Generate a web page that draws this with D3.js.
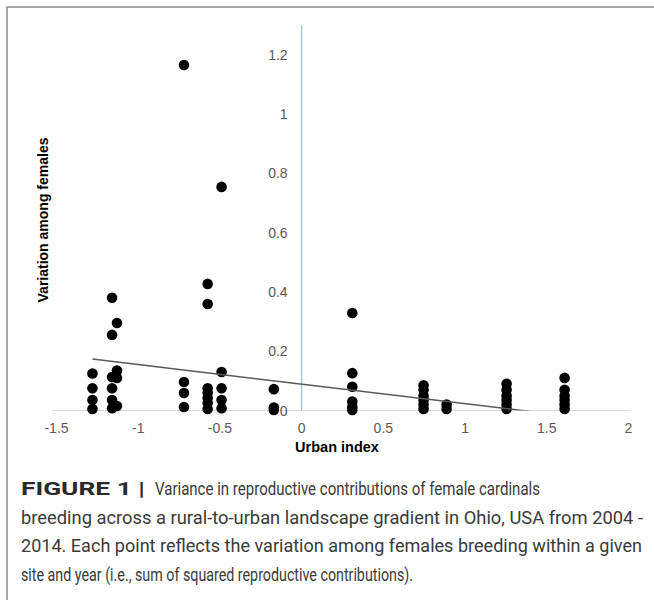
<!DOCTYPE html>
<html>
<head>
<meta charset="utf-8">
<script src="https://cdn.jsdelivr.net/npm/d3@7"></script>
<style>
  body { margin: 0; background: #fff; }
</style>
</head>
<body>
<script>
// values (site/year points)
const urbanIndex = [
  -1.28, -1.28, -1.28, -1.28,
  -1.16, -1.16, -1.16, -1.16, -1.16, -1.16,
  -1.13, -1.13, -1.13, -1.13,
  -0.72, -0.72, -0.72, -0.72,
  -0.575, -0.575, -0.575, -0.575, -0.575, -0.575, -0.575,
  -0.49, -0.49, -0.49, -0.49, -0.49,
  -0.17, -0.17, -0.17,
  0.31, 0.31, 0.31, 0.31, 0.31, 0.31,
  0.746, 0.746, 0.746, 0.746, 0.746, 0.746,
  0.887, 0.887,
  1.254, 1.254, 1.254, 1.254, 1.254, 1.254,
  1.609, 1.609, 1.609, 1.609, 1.609, 1.609
];
const variation = [
  0.125, 0.075, 0.035, 0.005,
  0.38, 0.255, 0.113, 0.075, 0.035, 0.008,
  0.295, 0.135, 0.11, 0.015,
  1.165, 0.096, 0.059, 0.012,
  0.427, 0.359, 0.075, 0.06, 0.042, 0.025, 0.005,
  0.754, 0.13, 0.075, 0.035, 0.008,
  0.072, 0.01, 0.002,
  0.329, 0.126, 0.08, 0.03, 0.012, 0.002,
  0.085, 0.07, 0.05, 0.035, 0.02, 0.005,
  0.02, 0.005,
  0.09, 0.07, 0.05, 0.035, 0.02, 0.005,
  0.11, 0.07, 0.05, 0.035, 0.02, 0.005
];
const xTicks = [-1.5, -1, -0.5, 0, 0.5, 1, 1.5, 2];
const yTicks = [0, 0.2, 0.4, 0.6, 0.8, 1, 1.2];
// linear trendline as drawn in the figure
const trendIntercept = 0.089;
const trendSlope = -0.066;
const captionHead = "FIGURE 1 |";
const captionLines = [
  "Variance in reproductive contributions of female cardinals",
  "breeding across a rural-to-urban landscape gradient in Ohio, USA from 2004 -",
  "2014. Each point reflects the variation among females breeding within a given",
  "site and year (i.e., sum of squared reproductive contributions)."
];

function main(){
  const W = 654, H = 600;
  const svg = d3.select("body").append("svg")
    .attr("width", W)
    .attr("height", H);

  // frame round the figure
  svg.append("rect")
    .attr("x", 7).attr("y", 7)
    .attr("width", 700).attr("height", 700)
    .attr("fill", "none")
    .attr("stroke", "#8a8a8a")
    .attr("stroke-width", 1.5);

  const x = d3.scaleLinear().domain([-1.5, 2]).range([56.5, 628.5]);
  const y = d3.scaleLinear().domain([0, 1.3]).range([410.5, 25]);

  const tickFont = "'Liberation Sans', Arial, sans-serif";

  // x axis line at y = 0
  svg.append("line")
    .attr("x1", 52).attr("x2", 630)
    .attr("y1", y(0)).attr("y2", y(0))
    .attr("stroke", "#d0dbe8").attr("stroke-width", 1.2);

  // y axis line at x = 0
  svg.append("line")
    .attr("x1", x(0)).attr("x2", x(0))
    .attr("y1", y(1.3)).attr("y2", y(0))
    .attr("stroke", "#9cc3e5").attr("stroke-width", 1.3);

  svg.selectAll(".xt").data(xTicks).enter().append("text")
    .attr("x", d => x(d))
    .attr("y", 433)
    .attr("text-anchor", "middle")
    .attr("font-family", tickFont)
    .attr("font-size", 14)
    .attr("fill", "#595959")
    .text(d => d);

  svg.selectAll(".yt").data(yTicks).enter().append("text")
    .attr("x", x(0) - 14)
    .attr("y", d => y(d) + 5)
    .attr("text-anchor", "end")
    .attr("font-family", tickFont)
    .attr("font-size", 14)
    .attr("fill", "#595959")
    .text(d => d);

  // points
  svg.append("g").selectAll("circle")
    .data(urbanIndex.map((u, i) => [u, variation[i]]))
    .enter().append("circle")
    .attr("cx", d => x(d[0]))
    .attr("cy", d => y(d[1]))
    .attr("r", 5.3)
    .attr("fill", "#000");

  // trendline, clipped at y = 0 like the original
  svg.append("clipPath").attr("id", "plotclip")
    .append("rect")
    .attr("x", 0).attr("y", y(1.3))
    .attr("width", W).attr("height", y(0) - y(1.3));

  const xMin = d3.min(urbanIndex), xMax = d3.max(urbanIndex);
  svg.append("line")
    .attr("clip-path", "url(#plotclip)")
    .attr("x1", x(xMin)).attr("y1", y(trendIntercept + trendSlope * xMin))
    .attr("x2", x(xMax)).attr("y2", y(trendIntercept + trendSlope * xMax))
    .attr("stroke", "#595959")
    .attr("stroke-width", 1.5);

  // axis titles
  svg.append("text")
    .attr("x", 337).attr("y", 452)
    .attr("text-anchor", "middle")
    .attr("font-family", tickFont)
    .attr("font-size", 14.5)
    .attr("font-weight", "bold")
    .attr("fill", "#000")
    .text("Urban index");

  svg.append("text")
    .attr("transform", "translate(48,220) rotate(-90)")
    .attr("text-anchor", "middle")
    .attr("font-family", tickFont)
    .attr("font-size", 14)
    .attr("font-weight", "bold")
    .attr("fill", "#000")
    .text("Variation among females");

  // caption, each line fitted to where it sits in the figure
  const capFont = "Roboto, 'Liberation Sans', sans-serif";
  const lineStart = [155, 21, 21, 21];
  const lineEnd = [540, 643, 642, 413];

  svg.append("text")
    .attr("x", 21).attr("y", 495)
    .attr("font-family", capFont)
    .attr("font-size", 19)
    .attr("font-weight", "bold")
    .attr("fill", "#2a2a2a")
    .attr("textLength", 124)
    .attr("lengthAdjust", "spacingAndGlyphs")
    .text(captionHead);

  svg.selectAll(".cap").data(captionLines).enter().append("text")
    .attr("x", (d, i) => lineStart[i])
    .attr("y", (d, i) => 495 + i * 28.5)
    .attr("font-family", capFont)
    .attr("font-size", 18)
    .attr("fill", "#3a3a3a")
    .attr("textLength", (d, i) => lineEnd[i] - lineStart[i])
    .attr("lengthAdjust", "spacingAndGlyphs")
    .text(d => d);
}
main();
</script>
</body>
</html>
